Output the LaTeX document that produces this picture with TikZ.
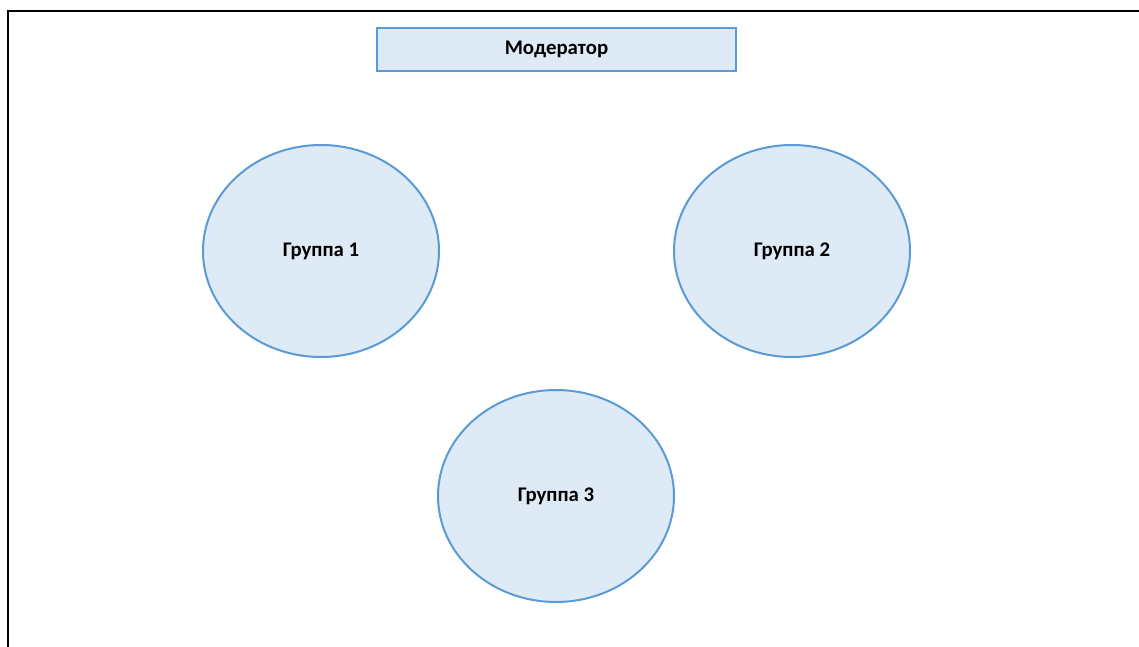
\documentclass[tikz,border=0pt]{standalone}
\usepackage{fontspec}
\setmainfont{Carlito}
\usetikzlibrary{shapes.geometric}
\definecolor{fillblue}{HTML}{DEEAF6}
\definecolor{lineblue}{HTML}{5B9BD5}
\begin{document}
\begin{tikzpicture}[x=1pt,y=-1pt,
  txt/.style={font=\fontsize{20.8}{24}\selectfont\bfseries},
  box/.style={txt,draw=lineblue,fill=fillblue,line width=2pt,minimum width=359pt,minimum height=43pt,inner sep=0pt},
  grp/.style={txt,ellipse,draw=lineblue,fill=fillblue,line width=2pt,minimum width=236pt,minimum height=212pt,inner sep=0pt}]
\useasboundingbox (0,0) rectangle (1139,647);
\draw[line width=2pt,black] (8,647) -- (8,11) -- (1139,11);
\node[box] (mod) at (556.5,49.5) {Модератор};
\node[grp] (g1) at (321,251) {Группа 1};
\node[grp] (g2) at (792,251) {Группа 2};
\node[grp] (g3) at (556,496) {Группа 3};
\end{tikzpicture}
\end{document}
